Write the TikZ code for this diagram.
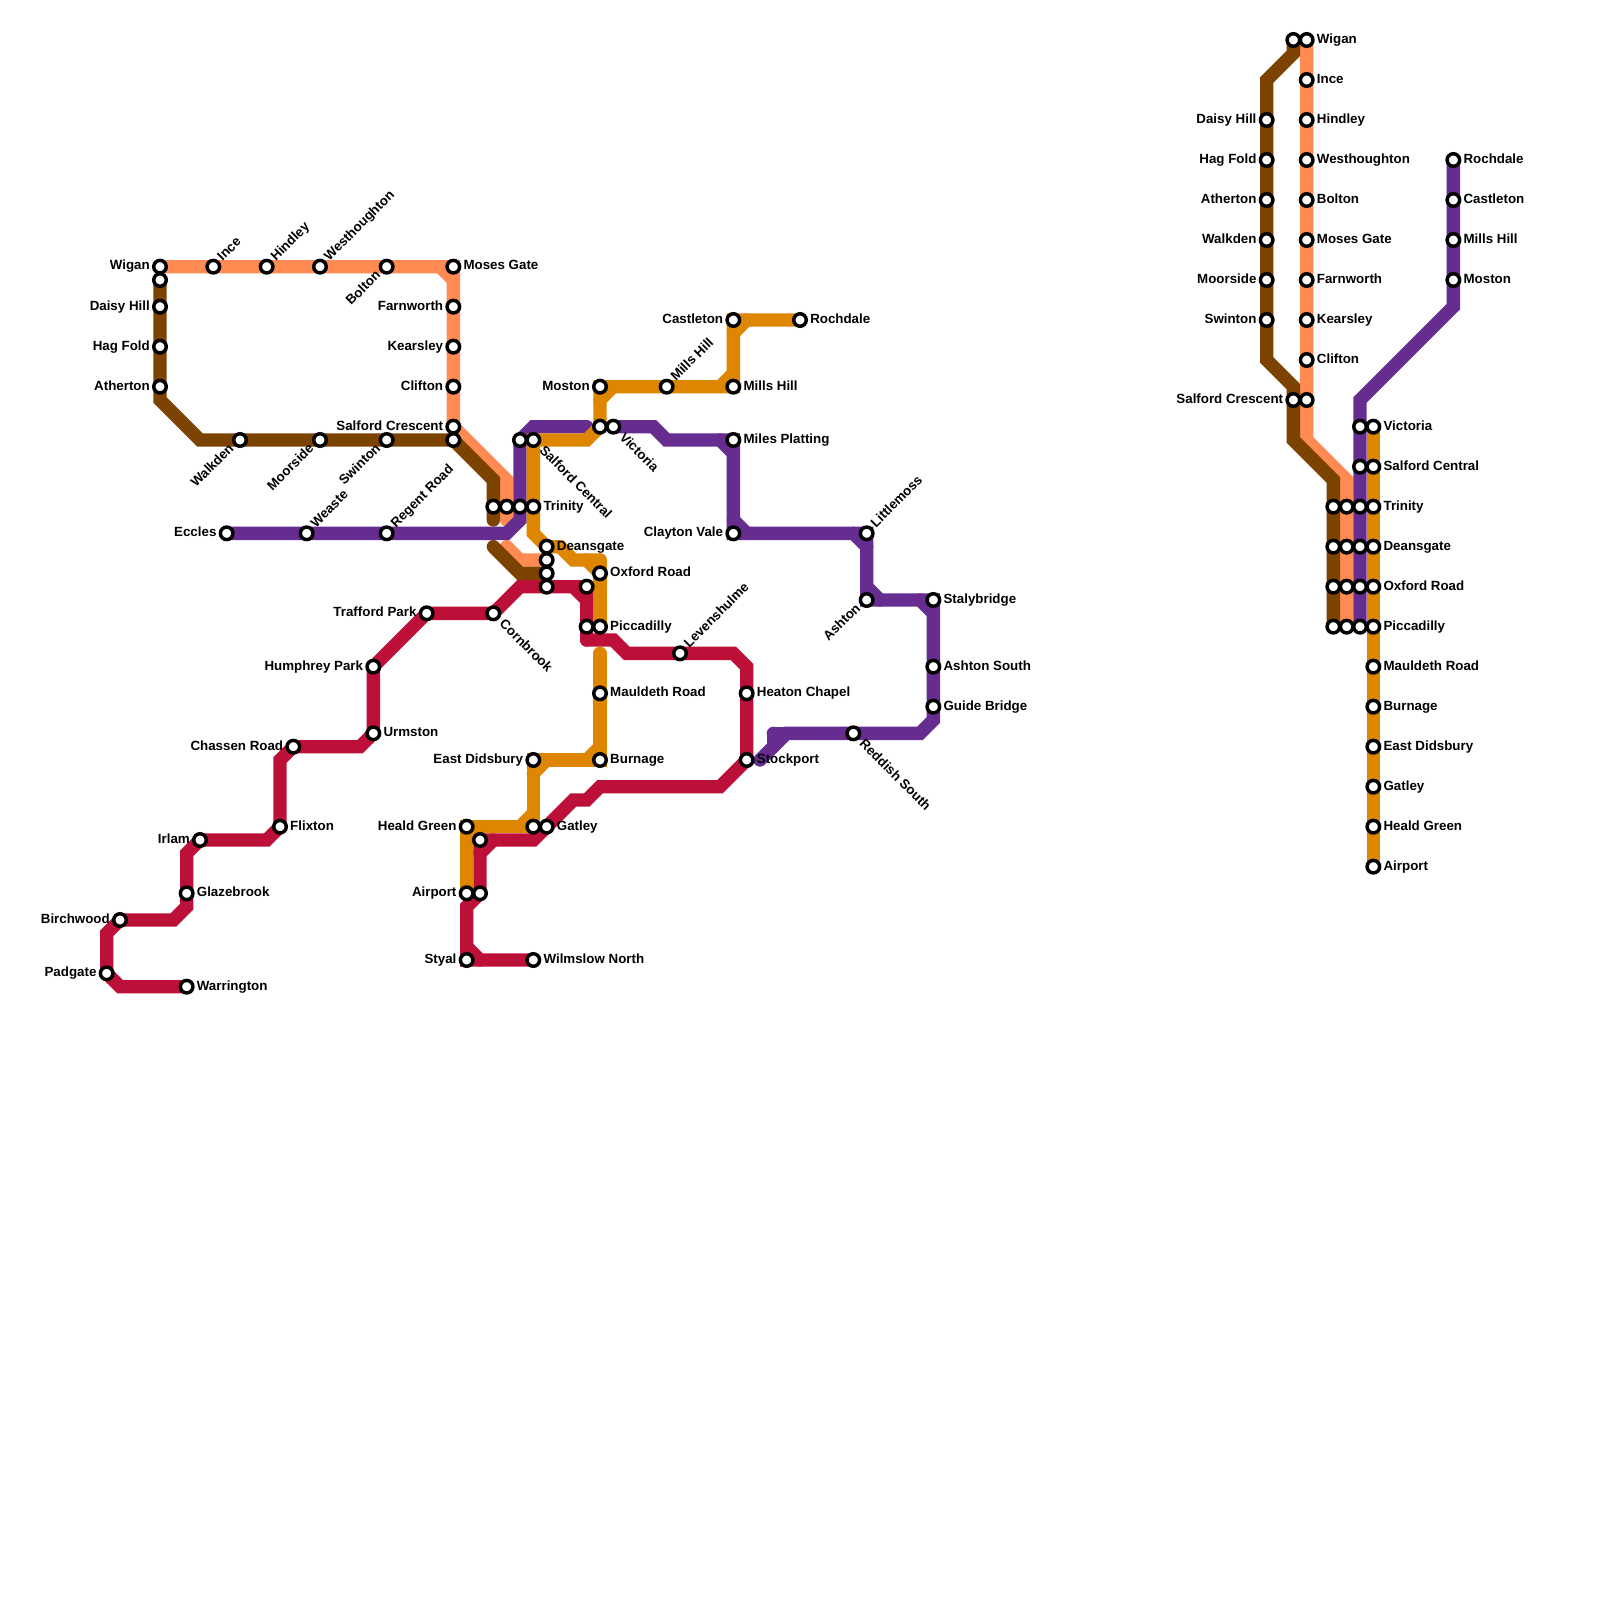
\documentclass[tikz,border=0pt]{standalone}
\usepackage{fontspec}
\setmainfont{Liberation Sans}
\usetikzlibrary{backgrounds}
\definecolor{lineorange}{RGB}{255,138,82}
\definecolor{linebrown}{RGB}{124,66,0}
\definecolor{linepurple}{RGB}{102,44,144}
\definecolor{lineamber}{RGB}{223,134,0}
\definecolor{linered}{RGB}{189,16,56}
\tikzset{
  route/.style={line width=0.25cm, line cap=round, line join=miter},
  stop/.style={
    draw=black, circle, fill=white, minimum size=0.235cm,
    inner sep=0pt, outer sep=0pt, line width=0.065cm
  },
  lbl/.style={inner sep=0pt, font=\fontsize{7.11}{8}\selectfont\bfseries},
  lblE/.style={lbl, xshift=0.185cm, yshift=-0.0625cm, anchor=base west},
  lblW/.style={lbl, xshift=-0.185cm, yshift=-0.0625cm, anchor=base east},
  lblNE/.style={lbl, xshift=0.17cm, yshift=0.09cm, rotate=45, anchor=base west},
  lblSW/.style={lbl, xshift=-0.1cm, yshift=-0.17cm, rotate=45, anchor=base east},
  lblSE/.style={lbl, xshift=0.1cm, yshift=-0.21cm, rotate=-45, anchor=base west}
}
\begin{document}
\begin{tikzpicture}[x=0.25cm, y=-0.25cm]
  \useasboundingbox (0,0) rectangle (120,120);

  % Stops with a label
  \foreach \n/\x/\y/\t/\s in {
    wigan/12/20/Wigan/W, ince/16/20/Ince/NE, hindley/20/20/Hindley/NE,
    westhoughton/24/20/Westhoughton/NE, bolton/29/20/Bolton/SW,
    moses/34/20/Moses Gate/E, farnworth/34/23/Farnworth/W,
    kearsley/34/26/Kearsley/W, clifton/34/29/Clifton/W,
    crescent/34/32/Salford Crescent/W,
    daisy/12/23/Daisy Hill/W, hagfold/12/26/Hag Fold/W, atherton/12/29/Atherton/W,
    walkden/18/33/Walkden/SW, moorside/24/33/Moorside/SW, swinton/29/33/Swinton/SW,
    eccles/17/40/Eccles/W, weaste/23/40/Weaste/NE, regent/29/40/Regent Road/NE,
    victoria/46/32/Victoria/SE, miles/55/33/Miles Platting/E,
    clayton/55/40/Clayton Vale/W, littlemoss/65/40/Littlemoss/NE,
    ashton/65/45/Ashton/SW, staly/70/45/Stalybridge/E,
    ashtons/70/50/Ashton South/E, guide/70/53/Guide Bridge/E,
    reddish/64/55/Reddish South/SE,
    rochdale/60/24/Rochdale/E, castleton/55/24/Castleton/W,
    mills/55/29/Mills Hill/E, millsb/50/29/Mills Hill/NE, moston/45/29/Moston/W,
    central/40/33/Salford Central/SE, trinity/40/38/Trinity/E,
    deansgate/41/41/Deansgate/E, oxford/45/43/Oxford Road/E,
    piccadilly/45/47/Piccadilly/E, mauldeth/45/52/Mauldeth Road/E,
    burnage/45/57/Burnage/E, didsbury/40/57/East Didsbury/W,
    heald/35/62/Heald Green/W, airport/35/67/Airport/W,
    gatley/41/62/Gatley/E, styal/35/72/Styal/W, wilmslow/40/72/Wilmslow North/E,
    trafford/32/46/Trafford Park/W, cornbrook/37/46/Cornbrook/SE,
    humphrey/28/50/Humphrey Park/W, urmston/28/55/Urmston/E,
    chassen/22/56/Chassen Road/W, flixton/21/62/Flixton/E, irlam/15/63/Irlam/W,
    glazebrook/14/67/Glazebrook/E, birchwood/9/69/Birchwood/W,
    padgate/8/73/Padgate/W, warrington/14/74/Warrington/E,
    levenshulme/51/49/Levenshulme/NE, heaton/56/52/Heaton Chapel/E,
    stockport/56/57/Stockport/E,
    % Right hand strip
    rdaisy/95/9/Daisy Hill/W, rhag/95/12/Hag Fold/W, rather/95/15/Atherton/W,
    rwalk/95/18/Walkden/W, rmoor/95/21/Moorside/W, rswin/95/24/Swinton/W,
    rcres/97/30/Salford Crescent/W,
    rwigan/98/3/Wigan/E, rince/98/6/Ince/E, rhind/98/9/Hindley/E,
    rwest/98/12/Westhoughton/E, rbolt/98/15/Bolton/E, rmoses/98/18/Moses Gate/E,
    rfarn/98/21/Farnworth/E, rkear/98/24/Kearsley/E, rclif/98/27/Clifton/E,
    rroch/109/12/Rochdale/E, rcast/109/15/Castleton/E,
    rmill/109/18/Mills Hill/E, rmost/109/21/Moston/E,
    rvict/103/32/Victoria/E, rcent/103/35/Salford Central/E,
    rtrin/103/38/Trinity/E, rdean/103/41/Deansgate/E, roxf/103/44/Oxford Road/E,
    rpicc/103/47/Piccadilly/E, rmaul/103/50/Mauldeth Road/E,
    rburn/103/53/Burnage/E, rdids/103/56/East Didsbury/E, rgat/103/59/Gatley/E,
    rheald/103/62/Heald Green/E, rair/103/65/Airport/E%
  }{
    \node[stop] (\n) at (\x,\y) {};
    \node[lbl\s] (\n-l) at (\n.center) {\t};
  }

  % Stops without a label
  \foreach \n/\x/\y in {
    wiganb/12/21, crescb/34/33, brtrin/37/38, ortrin/38/38, putrin/39/38,
    pucent/39/33, amvict/45/32, ordean/41/42, brdean/41/43, redean/41/44,
    redoxf/44/44, redpicc/44/47, amgat/40/62, redheald/36/63, redair/36/67,
    rbtop/97/3, rccres/98/30,
    rb1/100/38, rb2/100/41, rb3/100/44, rb4/100/47,
    ro1/101/38, ro2/101/41, ro3/101/44, ro4/101/47,
    rp1/102/32, rp2/102/35, rp3/102/38, rp4/102/41, rp5/102/44, rp6/102/47%
  }{
    \node[stop] (\n) at (\x,\y) {};
  }

  % Free line ends
  \coordinate (orend) at (38,39);
  \coordinate (orstart) at (38,41);
  \coordinate (brend) at (37,39);
  \coordinate (brstart) at (37,41);
  \coordinate (puend) at (44,32);
  \coordinate (putail) at (57,57);
  \coordinate (amstart) at (45,49);

  \begin{pgfonlayer}{background}
    % Orange
    \draw[route, lineorange] (wigan.center) -- (moses.center) -- (crescent.center) -- (38,36) -- (orend);
    \draw[route, lineorange] (33,20) -- (34,21);
    \draw[route, lineorange] (orstart) -- (39,42) -- (ordean.center);
    \draw[route, lineorange] (rwigan.center) -- (98,33) -- (101,36) -- (ro4.center);

    % Brown
    \draw[route, linebrown] (wiganb.center) -- (12,30) -- (15,33) -- (crescb.center) -- (37,36) -- (brend);
    \draw[route, linebrown] (brstart) -- (39,43) -- (brdean.center);
    \draw[route, linebrown] (rbtop.center) -- (97,4) -- (95,6) -- (95,27) -- (97,29) -- (97,33) -- (100,36) -- (rb4.center);

    % Purple
    \draw[route, linepurple] (eccles.center) -- (38,40) -- (39,39) -- (pucent.center) -- (40,32) -- (puend);
    \draw[route, linepurple] (victoria.center) -- (49,32) -- (50,33) -- (miles.center)
      -- (clayton.center) -- (littlemoss.center) -- (ashton.center) -- (staly.center)
      -- (70,54) -- (69,55) -- (59,55) -- (putail);
    \draw[route, linepurple] (54,33) -- (55,34) (55,39) -- (56,40) (64,40) -- (65,41)
      (65,44) -- (66,45) (69,45) -- (70,46);
    \draw[route, linepurple] (59,55) -- (58,55) (58,55) -- (58,56);
    \draw[route, linepurple] (rroch.center) -- (109,23) -- (102,30) -- (rp6.center);

    % Amber
    \draw[route, lineamber] (rochdale.center) -- (castleton.center) -- (mills.center) -- (moston.center)
      -- (amvict.center) -- (44,33) -- (central.center) -- (40,40) -- (deansgate.center) -- (42,41) -- (43,42)
      -- (45,42);
    \draw[route, lineamber] (45,42) -- (piccadilly.center);
    \draw[route, lineamber] (56,24) -- (55,25) (55,28) -- (54,29) (46,29) -- (45,30) (44,42) -- (45,43);
    \draw[route, lineamber] (amstart) -- (burnage.center) -- (didsbury.center) -- (amgat.center)
      -- (heald.center) -- (airport.center);
    \draw[route, lineamber] (45,56) -- (44,57) (41,57) -- (40,58) (40,61) -- (39,62);
    \draw[route, lineamber] (rvict.center) -- (rair.center);

    % Red
    \draw[route, linered] (wilmslow.center) -- (styal.center) -- (35,68) -- (redair.center)
      -- (redheald.center) -- (40,63) -- (gatley.center) -- (43,60) -- (44,60) -- (45,59)
      -- (54,59) -- (stockport.center) -- (56,50) -- (55,49) -- (47,49) -- (46,48) -- (44,48);
    \draw[route, linered] (44,48) -- (redoxf.center);
    \draw[route, linered] (redoxf.center) -- (39,44) -- (cornbrook.center) -- (trafford.center)
      -- (humphrey.center) -- (urmston.center) -- (27,56) -- (chassen.center) -- (21,57)
      -- (flixton.center) -- (20,63) -- (irlam.center) -- (14,64) -- (14,68) -- (13,69)
      -- (birchwood.center) -- (8,70) -- (padgate.center) -- (9,74) -- (warrington.center);
    \draw[route, linered] (35,71) -- (36,72) (37,63) -- (36,64) (43,44) -- (44,45);
  \end{pgfonlayer}
\end{tikzpicture}
\end{document}
